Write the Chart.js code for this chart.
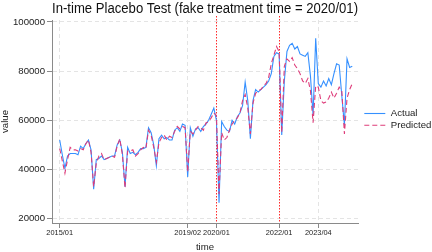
<!DOCTYPE html>
<html><head><meta charset="utf-8">
<script src="https://cdn.jsdelivr.net/npm/chart.js@4/dist/chart.umd.min.js"></script>
<style>html,body{margin:0;padding:0;background:#fff}#wrap{width:432px;height:252px}</style>
</head><body><div id="wrap"><canvas id="c" width="432" height="252"></canvas></div>
<script>
// Monthly index: 0 = 2015/01
const actual = [
  52000,46000,40500,45500,46500,46500,46500,46000,49500,48500,50500,52000,
  48000,32000,44000,44500,45500,44000,44500,45000,45500,45500,50000,52000,
  47000,33000,49000,46500,47000,46000,47000,48500,48500,49000,57000,55000,
  50000,41500,52500,54000,52500,53000,52000,52000,56000,57000,55500,58500,
  58000,37000,57000,53500,56500,57000,55500,57500,58500,60000,62500,65000,
  60000,26500,59500,57500,56000,55500,60000,58500,61500,63000,66000,75500,
  68000,52500,68000,72500,71500,72500,73500,74500,76000,79000,86000,87500,
  87000,54000,76000,88000,90500,91300,89000,90000,87000,86500,86000,87500,
  78000,62000,93400,75000,73500,76000,74000,77000,74500,79000,83000,82500,
  70000,58000,85000,81500,82000
];
const predicted = [
  48500,43500,38500,44000,49000,48000,48000,47500,48500,48000,50500,52000,
  47000,33000,42500,45500,46500,44000,44500,45000,45500,45000,49500,52500,
  46000,32500,47500,47500,48000,45500,46500,48000,49000,48500,56000,54000,
  49000,43000,51000,53000,54000,52000,53500,53000,55500,57500,56500,57500,
  57000,39000,55500,54500,56000,57500,57000,56000,59000,59500,61000,63000,
  62000,30000,55000,52000,53000,56000,58500,60000,61000,63000,68000,70500,
  65000,54500,67000,71000,72000,72500,74000,75000,77500,83000,86500,90000,
  88000,55000,82000,85000,84000,85500,82500,81000,79000,76000,75000,77000,
  72000,59000,74000,73500,68000,67000,67500,69000,71500,69000,71000,73500,
  72000,54500,69000,72500,75000
];
const xTickMonths = [0, 49, 60, 84, 99];
const xTickLabels = ['2015/01', '2019/02', '2020/01', '2022/01', '2023/04'];
const yTicks = [20000, 40000, 60000, 80000, 100000];
const treatmentMonths = [60, 84];
const seriesNames = ['Actual', 'Predicted'];
const titleText = 'In-time Placebo Test (fake treatment time = 2020/01)';

const FONT = "'Liberation Sans', Arial, Helvetica, sans-serif";
Chart.defaults.font.family = FONT;
Chart.defaults.color = '#222';

const toPts = arr => arr.map((v, i) => ({x: i, y: v}));

const refLines = {
  id: 'refLines',
  beforeDatasetsDraw(chart) {
    const {ctx, chartArea, scales: {x}} = chart;
    ctx.save();
    ctx.strokeStyle = '#ff2a2a';
    ctx.lineWidth = 1;
    ctx.setLineDash([1.5, 1.5]);
    treatmentMonths.forEach(m => {
      const px = Math.round(x.getPixelForValue(m)) + 0.5;
      ctx.beginPath();
      ctx.moveTo(px, chartArea.top - 4);
      ctx.lineTo(px, chartArea.bottom);
      ctx.stroke();
    });
    ctx.restore();
  },
  afterDraw(chart) {
    // legend (drawn from the datasets' own styles)
    const {ctx, chartArea} = chart;
    const mid = (chartArea.top + chartArea.bottom) / 2;
    const lx = chartArea.right + 6.3;
    ctx.save();
    ctx.font = '9.6px ' + FONT;
    ctx.textBaseline = 'middle';
    ctx.textAlign = 'left';
    chart.data.datasets.forEach((ds, i) => {
      const y = mid - 8 + i * 11.7;
      ctx.strokeStyle = ds.borderColor;
      ctx.lineWidth = ds.borderWidth;
      ctx.setLineDash(ds.borderDash || []);
      ctx.beginPath();
      ctx.moveTo(lx, y);
      ctx.lineTo(lx + 21, y);
      ctx.stroke();
      ctx.fillStyle = '#222';
      ctx.fillText(ds.label, lx + 26.5, y);
    });
    ctx.restore();
  }
};

new Chart(document.getElementById('c'), {
  type: 'line',
  data: {
    datasets: [
      {label: seriesNames[0], data: toPts(actual), borderColor: '#3590ff', backgroundColor: '#3590ff',
       borderWidth: 1.1, pointRadius: 0, tension: 0, order: 2},
      {label: seriesNames[1], data: toPts(predicted), borderColor: '#de3c7a', backgroundColor: '#de3c7a',
       borderWidth: 1.1, borderDash: [5, 3], pointRadius: 0, tension: 0, order: 1}
    ]
  },
  options: {
    responsive: false,
    animation: false,
    devicePixelRatio: 1,
    layout: {padding: {left: 0, right: 74, top: 0, bottom: 0}},
    scales: {
      x: {
        type: 'linear', min: -2.95, max: 114.2,
        afterBuildTicks: s => { s.ticks = xTickMonths.map(v => ({value: v})); },
        afterFit: s => { s.height = 29; },
        ticks: {autoSkip: false, maxRotation: 0, padding: 1, font: {size: 7.4}, color: '#222',
          callback: v => { const k = xTickMonths.indexOf(v); return k >= 0 ? xTickLabels[k] : ''; }},
        grid: {color: c => (c.tick && treatmentMonths.includes(c.tick.value)) ? 'rgba(0,0,0,0)' : '#e4e4e4',
          tickColor: '#8a8a8a', tickLength: 5, lineWidth: 1},
        border: {color: '#8a8a8a', dash: [4, 3]},
        title: {display: true, text: 'time', font: {size: 9.6, lineHeight: 1}, padding: 0, color: '#222'}
      },
      y: {
        min: 18250, max: 100800,
        afterBuildTicks: s => { s.ticks = yTicks.map(v => ({value: v})); },
        afterFit: s => { s.width = 52; },
        ticks: {padding: 2, font: {size: 9.6}, color: '#222', callback: v => String(v)},
        grid: {color: '#e4e4e4', tickColor: '#8a8a8a', tickLength: 5, lineWidth: 1},
        border: {color: '#8a8a8a', dash: [4, 3]},
        title: {display: true, text: 'value', font: {size: 9.6, lineHeight: 1.2}, padding: {top: 0, bottom: 0}, color: '#222'}
      }
    },
    plugins: {
      title: {display: true, text: titleText, fullSize: false, color: '#111',
        font: {size: 14, weight: 'normal', lineHeight: 1.2}, padding: {top: 0.3, bottom: 2.9}},
      legend: {display: false},
      tooltip: {enabled: false}
    }
  },
  plugins: [refLines]
});
</script>
</body></html>
